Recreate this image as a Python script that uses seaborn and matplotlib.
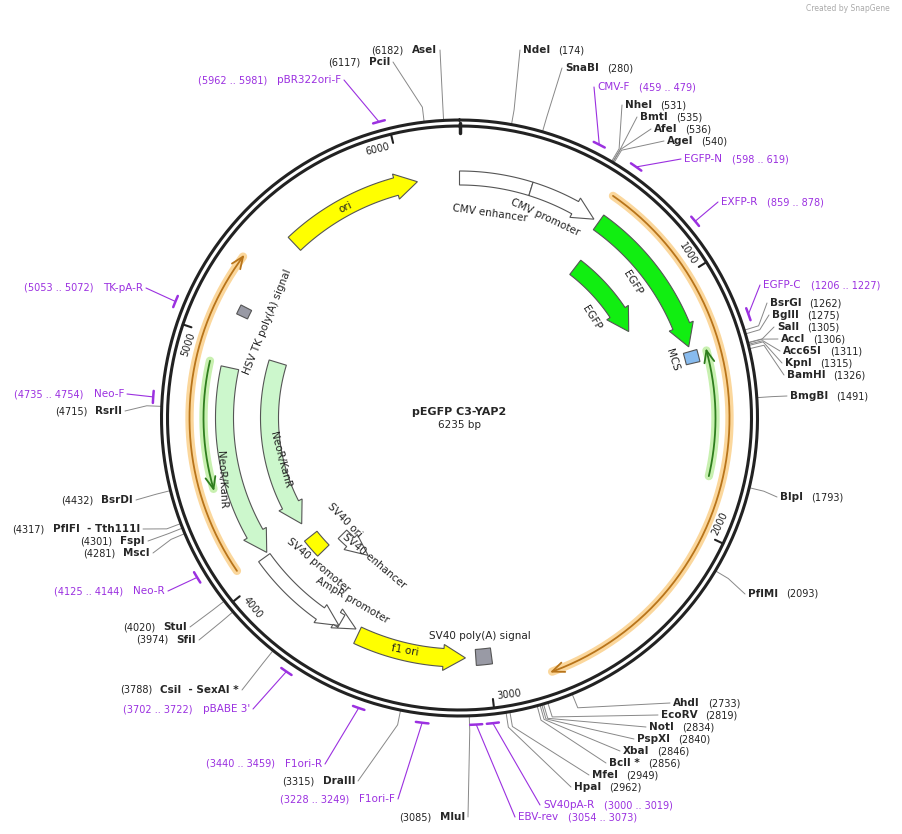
import numpy as np
import matplotlib
matplotlib.use("Agg")
import matplotlib.pyplot as plt
from matplotlib.patches import Polygon, Rectangle
import seaborn as sns

sns.set_theme(style="white")
plt.rcParams['font.family'] = ['DejaVu Sans']

TOTAL = 6235
title = "pEGFP C3-YAP2"

# enzymes: name, bp, label x, label y, side
enz_names = ["NdeI","SnaBI","NheI","BmtI","AfeI","AgeI","BsrGI","BglII","SalI","AccI","Acc65I","KpnI","BamHI",
             "BmgBI","BlpI","PflMI","AhdI","EcoRV","NotI","PspXI","XbaI","BclI *","MfeI","HpaI",
             "AseI","PciI","MluI","DraIII","CsiI  - SexAI *","SfiI","StuI","MscI","FspI","PflFI  - Tth111I","BsrDI","RsrII"]
enz_bp = [174,280,531,535,536,540,1262,1275,1305,1306,1311,1315,1326,1491,1793,2093,2733,2819,2834,2840,2846,2856,2949,2962,
          6182,6117,3085,3315,3788,3974,4020,4281,4301,4317,4432,4715]
enz_x = [523,565,625,640,654,667,770,772,777,781,783,785,787,790,780,748,673,661,649,637,623,609,592,574,
         437,390,465,355,239,196,187,150,145,140,133,122]
enz_y = [50,68,105,117,129,141,303,315,327,339,351,363,375,396,497,594,703,715,727,739,751,763,775,787,
         50,62,817,781,690,640,627,553,541,529,500,411]
enz_side = ["R"]*24 + ["L"]*12

pr_names = ["pBR322ori-F","CMV-F","EGFP-N","EXFP-R","EGFP-C","TK-pA-R","Neo-F","Neo-R","pBABE 3'","F1ori-R","F1ori-F","SV40pA-R","EBV-rev"]
pr_start = [5962,459,598,859,1206,5053,4735,4125,3702,3440,3228,3000,3054]
pr_end = [5981,479,619,878,1227,5072,4754,4144,3722,3459,3249,3019,3073]
pr_x = [341,597,684,721,763,143,124,165,250,322,395,543,518]
pr_y = [80,87,159,202,285,288,394,591,709,764,799,805,817]
pr_side = ["L","R","R","R","R","L","L","L","L","L","L","R","R"]

CX, CY, R = 459.5, 418, 295

fig = plt.figure(figsize=(9.02, 8.34), dpi=100)
ax = fig.add_axes([0, 0, 1, 1])
ax.set_xlim(0, 902); ax.set_ylim(834, 0); ax.axis('off')

def pt(bp, r):
    t = 2*np.pi*bp/TOTAL
    return CX + r*np.sin(t), CY - r*np.cos(t)

def arcpts(b1, b2, r, n=80):
    bs = np.linspace(b1, b2, n)
    t = 2*np.pi*bs/TOTAL
    return np.column_stack([CX + r*np.sin(t), CY - r*np.cos(t)])

def feature(b1, b2, r, fc, w=16, rev=False, head=True):
    hl = 22/(2*np.pi*r)*TOTAL if head else 0
    if rev:
        s, e = b2, b1; hb = e + hl
    else:
        s, e = b1, b2; hb = e - hl
    outer = arcpts(s, hb, r + w/2)
    inner = arcpts(hb, s, r - w/2)
    if head:
        tip = [pt(hb, r + w/2 + 4), pt(e, r), pt(hb, r - w/2 - 4)]
    else:
        tip = [pt(e, r + w/2), pt(e, r - w/2)]
    poly = np.vstack([outer, tip, inner])
    ax.add_patch(Polygon(poly, closed=True, fc=fc, ec='#555555', lw=0.8, zorder=3))

def box(b1, b2, r, fc, w=14):
    poly = np.vstack([arcpts(b1, b2, r + w/2, 10), arcpts(b2, b1, r - w/2, 10)])
    ax.add_patch(Polygon(poly, closed=True, fc=fc, ec='#555555', lw=0.8, zorder=3))

def thin(b1, b2, r, light, dark, rev=False):
    a = arcpts(b1, b2, r, 200)
    ax.plot(a[:, 0], a[:, 1], color=light, lw=6, solid_capstyle='round', zorder=2)
    ax.plot(a[:, 0], a[:, 1], color=dark, lw=1.3, zorder=2)
    e = b1 if rev else b2
    d = 12/(2*np.pi*r)*TOTAL
    hb = e + d if rev else e - d
    tri = [pt(hb, r + 5), pt(e, r), pt(hb, r - 5)]
    ax.plot([p[0] for p in tri], [p[1] for p in tri], color=dark, lw=1.3, zorder=2)

# backbone rings
th = np.linspace(0, 2*np.pi, 400)
for rr in (R + 3, R - 3):
    ax.plot(CX + rr*np.sin(th), CY - rr*np.cos(th), color='#222222', lw=2.2, zorder=4)
x0, y0 = pt(0, R - 10); x1, y1 = pt(0, R + 0)
ax.plot([x0, x1], [y0, y1], color='#222222', lw=2.5, zorder=4)
for k in range(1, 7):
    b = k*1000
    a0 = pt(b, R - 3); a1 = pt(b, R - 12)
    ax.plot([a0[0], a1[0]], [a0[1], a1[1]], color='#222222', lw=1.5, zorder=4)
    lx, ly = pt(b - 60, R - 14)
    deg = b/TOTAL*360
    rot = -deg
    if 90 < deg < 270:
        rot += 180
    ax.text(lx, ly, str(b), fontsize=7, rotation=rot, ha='center', va='center', rotation_mode='anchor', color='#222222')

# orange / green ORF arcs
thin(600, 2770, 270, '#fbd79c', '#b8741a')
thin(1294, 1786, 256, '#c8f0b0', '#2e7d1e', rev=True)
thin(4079, 5312, 270, '#fbd79c', '#b8741a')
thin(4398, 4900, 256, '#c8f0b0', '#2e7d1e', rev=True)

# features
feature(0, 300, 240, 'white', w=14, head=False)
feature(300, 590, 240, 'white', w=14)
feature(613, 1260, 240, '#11ee11', w=18)
feature(650, 1090, 190, '#11ee11', w=18)
box(1280, 1330, 240, '#88bbee', w=14)
feature(5482, 6060, 240, '#ffff00', w=18)
box(5110, 5150, 240, '#999aa5', w=12)
feature(4072, 4890, 235, '#ccf7cc', w=18, rev=True)
feature(4090, 4970, 190, '#ccf7cc', w=18, rev=True)
box(3910, 4010, 190, '#ffff00', w=16)
feature(3700, 3900, 165, 'white', w=12, rev=True)
feature(3640, 4060, 240, 'white', w=14, rev=True)
feature(3570, 3640, 235, 'white', w=14, rev=True)
feature(3093, 3553, 240, '#ffff00', w=18, rev=True)
box(2985, 3050, 240, '#999aa5', w=16)

labels = [("CMV enhancer", 490, 213, -8), ("CMV promoter", 545, 217, -25), ("EGFP", 633, 283, -58),
          ("EGFP", 592, 318, -58), ("MCS", 672, 360, -72), ("ori", 345, 207, 25),
          ("HSV TK poly(A) signal", 267, 322, 68), ("NeoR/KanR", 222, 480, -87), ("NeoR/KanR", 280, 460, -75),
          ("SV40 ori", 345, 520, -45), ("SV40 enhancer", 374, 561, -40), ("SV40 promoter", 318, 565, -40),
          ("AmpR promoter", 352, 600, -30), ("f1 ori", 405, 650, -10), ("SV40 poly(A) signal", 480, 636, 0)]
for s, x, y, r in labels:
    ax.text(x, y, s, fontsize=7.5, rotation=r, ha='center', va='center', color='#222222', zorder=5)

ax.text(459, 412, title, fontsize=8, fontweight='bold', ha='center', va='center')
ax.text(459, 425, "6235 bp", fontsize=7.5, ha='center', va='center')
ax.text(890, 8, "Created by SnapGene", fontsize=5.5, ha='right', va='center', color='#aaaaaa')

fig.canvas.draw()
rend = fig.canvas.get_renderer()

def width(t):
    bb = t.get_window_extent(renderer=rend)
    return bb.width

# enzymes
for n, b, x, y, side in zip(enz_names, enz_bp, enz_x, enz_y, enz_side):
    if side == "R":
        t = ax.text(x, y, n, fontsize=7.5, fontweight='bold', ha='left', va='center')
        w = width(t)
        ax.text(x + w + 8, y, f"({b})", fontsize=7, ha='left', va='center', color='#222222')
        anchor = (x - 3, y)
    else:
        t = ax.text(x, y, n, fontsize=7.5, fontweight='bold', ha='right', va='center')
        w = width(t)
        ax.text(x - w - 8, y, f"({b})", fontsize=7, ha='right', va='center', color='#222222')
        anchor = (x + 3, y)
    p0 = pt(b, R + 4)
    p1 = pt(b, R + 18)
    ax.plot([p0[0], p1[0], anchor[0]], [p0[1], p1[1], anchor[1]], color='#888888', lw=0.7, zorder=1)

# primers
for n, s, e, x, y, side in zip(pr_names, pr_start, pr_end, pr_x, pr_y, pr_side):
    a = arcpts(s - 10, e + 10, R + 12, 10)
    ax.plot(a[:, 0], a[:, 1], color='#9b30e0', lw=1.8, zorder=4)
    m = (s + e)/2
    if side == "R":
        t = ax.text(x, y, n, fontsize=7.5, ha='left', va='center', color='#9b30e0')
        w = width(t)
        ax.text(x + w + 10, y, f"({s} .. {e})", fontsize=7, ha='left', va='center', color='#9b30e0')
        anchor = (x - 3, y)
    else:
        t = ax.text(x, y, n, fontsize=7.5, ha='right', va='center', color='#9b30e0')
        w = width(t)
        ax.text(x - w - 10, y, f"({s} .. {e})", fontsize=7, ha='right', va='center', color='#9b30e0')
        anchor = (x + 3, y)
    p0 = pt(m, R + 12)
    ax.plot([p0[0], anchor[0]], [p0[1], anchor[1]], color='#9b30e0', lw=0.8, zorder=1)

fig.savefig("out.png", dpi=100)
